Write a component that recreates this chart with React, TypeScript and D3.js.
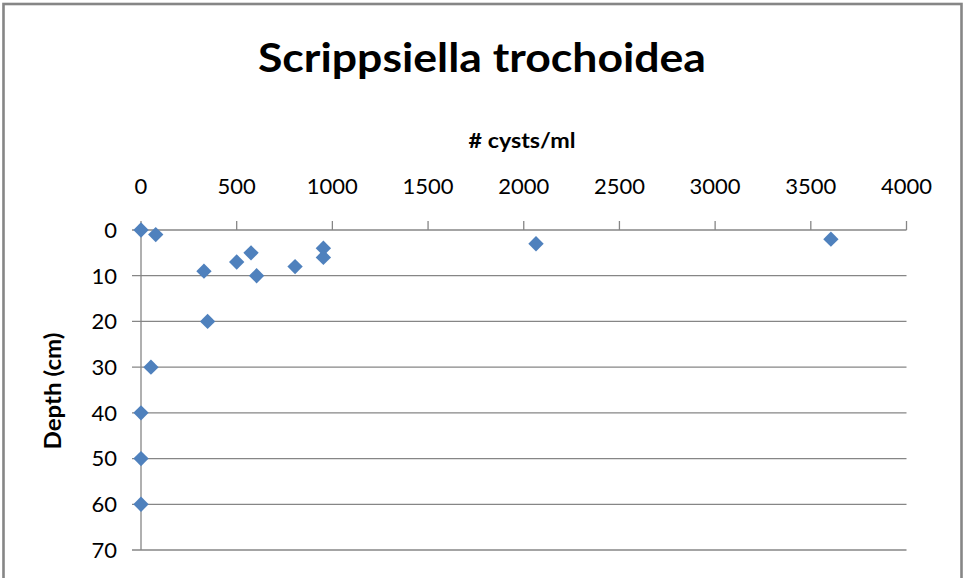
import React from "react";
import * as d3 from "d3";

const cysts = [0, 77, 3605, 2064, 953, 575, 953, 500, 805, 329, 604, 348, 52, 0, 0, 0];
const depths = [0, 1, 2, 3, 4, 5, 6, 7, 8, 9, 10, 20, 30, 40, 50, 60];
const xTicks = [0, 500, 1000, 1500, 2000, 2500, 3000, 3500, 4000];
const yTicks = [0, 10, 20, 30, 40, 50, 60, 70];

const W = 963;
const H = 578;
const FONT = "Lato, 'Open Sans', sans-serif";
const AXIS = "#868686";
const MARK = "#4F81BD";

export default function App() {
  const x = d3.scaleLinear().domain([0, 4000]).range([141, 906.5]);
  const y = d3.scaleLinear().domain([0, 70]).range([230, 550]);
  const diamond = d3.symbol().type(d3.symbolDiamond2).size(150)();

  return (
    <svg
      width={W}
      height={H}
      style={{ position: "absolute", left: 0, top: 0, background: "#fff" }}
    >
      <rect x={0} y={0} width={W} height={H} fill="#fff" />
      <rect x={3.5} y={4} width={958} height={600} fill="none" stroke={AXIS} strokeWidth={2.6} />
      <text
        x={482}
        y={72}
        textAnchor="middle"
        fontFamily={FONT}
        fontWeight="bold"
        fontSize={40}
        textLength={448}
        lengthAdjust="spacingAndGlyphs"
        fill="#000"
      >
        Scrippsiella trochoidea
      </text>
      <text
        x={522}
        y={148}
        textAnchor="middle"
        fontFamily={FONT}
        fontWeight="bold"
        fontSize={21}
        textLength={107}
        lengthAdjust="spacingAndGlyphs"
        fill="#000"
      >
        # cysts/ml
      </text>
      <text
        transform="translate(61,391) rotate(-90)"
        textAnchor="middle"
        fontFamily={FONT}
        fontWeight="bold"
        fontSize={22}
        textLength={117}
        lengthAdjust="spacingAndGlyphs"
        fill="#000"
      >
        Depth (cm)
      </text>
      {yTicks.map((t) => (
        <g key={"y" + t}>
          <line x1={132} x2={906.5} y1={y(t)} y2={y(t)} stroke={AXIS} strokeWidth={1.3} />
          <text
            x={117}
            y={y(t)}
            dy="0.36em"
            textAnchor="end"
            fontFamily={FONT}
            fontSize={22}
            fill="#000"
          >
            {t}
          </text>
        </g>
      ))}
      <line x1={x(0)} x2={x(0)} y1={y(0)} y2={y(70)} stroke={AXIS} strokeWidth={1.3} />
      {xTicks.map((t) => (
        <g key={"x" + t}>
          <line x1={x(t)} x2={x(t)} y1={y(0) - 9} y2={y(0)} stroke={AXIS} strokeWidth={1.3} />
          <text
            x={x(t)}
            y={194}
            textAnchor="middle"
            fontFamily={FONT}
            fontSize={22}
            fill="#000"
          >
            {t}
          </text>
        </g>
      ))}
      {cysts.map((c, i) => (
        <path
          key={"p" + i}
          d={diamond}
          transform={`translate(${x(c)},${y(depths[i])})`}
          fill={MARK}
        />
      ))}
    </svg>
  );
}
